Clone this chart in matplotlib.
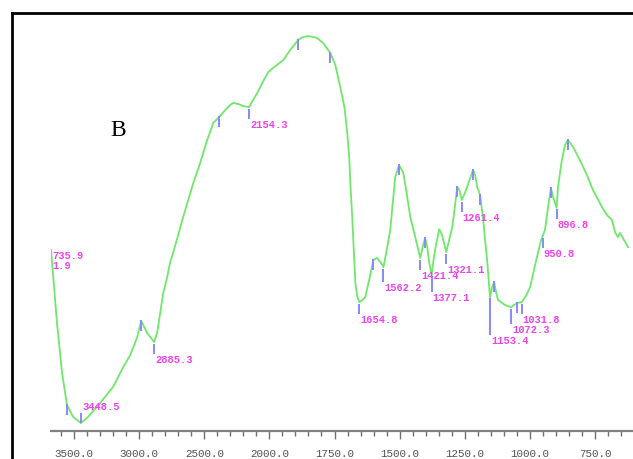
"""
FTIR spectrum (panel B) with picked peaks, split wavenumber scale at 2000 cm-1
"""

import numpy as np
import matplotlib
matplotlib.use('Agg')
import matplotlib.pyplot as plt
from matplotlib.ticker import FixedLocator, FixedFormatter, NullLocator
from matplotlib.lines import Line2D

# Spectrum (wavenumber in cm-1, transmittance in %)
WAVENUMBER = [
    3677, 3662, 3631, 3592, 3554, 3508, 3448, 3392, 3300, 3200,
    3123, 3069, 3015, 2985, 2938, 2885, 2862, 2815, 2785, 2762,
    2738, 2700, 2669, 2623, 2577, 2531, 2485, 2431, 2385, 2338,
    2300, 2277, 2238, 2200, 2154, 2131, 2092, 2054, 2008, 1977,
    1946, 1920, 1889, 1870, 1850, 1831, 1816, 1793, 1766, 1747,
    1728, 1712, 1701, 1693, 1689, 1682, 1674, 1670, 1663, 1655,
    1643, 1632, 1617, 1601, 1586, 1574, 1562, 1551, 1536, 1525,
    1517, 1502, 1486, 1475, 1459, 1440, 1421, 1410, 1402, 1394,
    1387, 1377, 1371, 1364, 1348, 1337, 1321, 1310, 1298, 1287,
    1279, 1271, 1261, 1248, 1241, 1229, 1218, 1210, 1202, 1191,
    1179, 1172, 1164, 1153, 1145, 1137, 1130, 1122, 1095, 1072,
    1049, 1031, 1015, 999, 980, 969, 957, 942, 930, 919,
    911, 897, 892, 877, 865, 854, 834, 808, 781, 758,
    723, 704, 685, 673, 662, 654, 643, 623,
]
TRANSMITTANCE = [
    43.4, 37.9, 25.9, 13.9, 6.2, 3.4, 1.9, 3.4, 6.7, 10.6,
    15.3, 18.2, 22.5, 26.4, 23.5, 21.3, 23.5, 33.1, 36.9, 40.5,
    42.9, 47.0, 50.6, 55.4, 60.2, 64.3, 69.1, 73.9, 75.3, 77.0,
    78.2, 78.7, 78.4, 77.9, 77.7, 79.1, 81.1, 83.5, 86.1, 87.5,
    89.0, 91.4, 93.8, 94.5, 94.7, 94.5, 94.2, 93.0, 90.6, 87.8,
    82.5, 77.7, 71.5, 65.0, 59.0, 51.3, 41.0, 35.5, 32.4, 30.9,
    31.4, 32.1, 36.2, 41.0, 41.5, 40.5, 39.3, 42.9, 48.2, 55.4,
    60.9, 63.8, 61.9, 57.8, 51.3, 46.5, 41.5, 44.6, 46.3, 44.1,
    40.5, 37.4, 40.5, 43.4, 48.4, 47.0, 42.9, 45.8, 48.9, 54.2,
    58.5, 57.8, 55.4, 57.3, 58.5, 60.7, 62.6, 61.4, 58.5, 56.6,
    50.6, 45.8, 41.0, 32.1, 34.5, 35.7, 33.3, 31.4, 30.2, 29.7,
    30.7, 30.9, 32.4, 34.5, 39.8, 42.7, 45.8, 48.2, 53.7, 58.3,
    56.1, 53.5, 58.5, 65.0, 68.6, 69.8, 68.1, 65.0, 61.4, 57.8,
    53.7, 51.8, 50.6, 47.7, 46.5, 47.5, 46.3, 44.1,
]

# Peaks with a printed value, and peaks only marked with a tick
LABELED_PEAKS = [3448.5, 2885.3, 2154.3, 1654.8, 1562.2, 1421.4, 1377.1,
                 1321.1, 1261.4, 1153.4, 1072.3, 1031.8, 950.8, 896.8]
MARKED_PEAKS = [3554, 2985, 2385, 1889, 1766, 1601, 1502, 1402,
                1279, 1218, 1191, 1137, 1049, 919, 854]

START_LABEL = ['735.9', '1.9']
PANEL_LABEL = 'B'

MAJOR_TICKS = [3500, 3000, 2500, 2000, 1750, 1500, 1250, 1000, 750]
TICK_LABELS = ['3500.0', '3000.0', '2500.0', '2000.0', '1750.0',
               '1500.0', '1250.0', '1000.0', '750.0']

# marker length in pixels where it differs from the default
MARK_LEN = {1153.4: 37, 1072.3: 15, 1377.1: 15, 1562.2: 13}

W, H = 633, 459
GREEN = '#6fe86a'
PEAK_BLUE = '#8888ff'
MAGENTA = '#f040f0'


def fwd(x):
    # above 2000 cm-1 the axis is compressed by a factor of two
    x = np.asarray(x, dtype=float)
    return np.where(x > 2000, 2000 + (x - 2000) / 2.0, x)


def inv(u):
    u = np.asarray(u, dtype=float)
    return np.where(u > 2000, 2000 + (u - 2000) * 2.0, u)


fig = plt.figure(figsize=(W / 100, H / 100), dpi=100)
ax = fig.add_axes([51 / W, 1 - 431 / H, (W - 51) / W, 417 / H])
ax.set_xscale('function', functions=(fwd, inv))

ax.plot(WAVENUMBER, TRANSMITTANCE, color=GREEN, lw=1.3, zorder=2)
ax.set_xlim(3677, 604)
ax.set_ylim(0, 100)

# axis styling: only a grey bottom axis with long/short ticks
for side in ['left', 'right', 'top']:
    ax.spines[side].set_visible(False)
ax.spines['bottom'].set_color('#808080')
ax.spines['bottom'].set_linewidth(1.6)
ax.yaxis.set_major_locator(NullLocator())

minor = [v for v in range(3600, 2000, -100) if v not in MAJOR_TICKS]
minor += [v for v in range(1950, 600, -50) if v not in MAJOR_TICKS]
ax.xaxis.set_major_locator(FixedLocator(MAJOR_TICKS))
ax.xaxis.set_major_formatter(FixedFormatter(TICK_LABELS))
ax.xaxis.set_minor_locator(FixedLocator(minor))
ax.tick_params(axis='x', which='major', length=6, width=1, color='#707070',
               pad=7, labelsize=7.8, labelcolor='#505050')
ax.tick_params(axis='x', which='minor', length=3.5, width=1, color='#707070')
for lbl in ax.get_xticklabels():
    lbl.set_family('Liberation Mono')

# data units per pixel on y
upp = 100.0 / 417
wn_up = WAVENUMBER[::-1]
t_up = TRANSMITTANCE[::-1]
txt_kw = dict(fontsize=7.5, family='Liberation Mono', fontweight='bold',
              color=MAGENTA, textcoords='offset pixels', clip_on=False)

for wn in MARKED_PEAKS:
    t = np.interp(wn, wn_up, t_up)
    ax.vlines(wn, t - 10 * upp, t + 1 * upp, color=PEAK_BLUE, lw=1.4, zorder=3)

for wn in LABELED_PEAKS:
    t = np.interp(wn, wn_up, t_up)
    if wn == 3448.5:
        # minimum sits on the baseline, so tick and value go above it
        top = t + 10 * upp
        ax.vlines(wn, t, top, color=PEAK_BLUE, lw=1.4, zorder=3)
        ax.annotate(f'{wn:.1f}', (wn, top), xytext=(2, 6), ha='left',
                    va='center', **txt_kw)
        continue
    top = t - 2 * upp
    bottom = top - MARK_LEN.get(wn, 10) * upp
    ax.vlines(wn, bottom, top, color=PEAK_BLUE, lw=1.4, zorder=3)
    ax.annotate(f'{wn:.1f}', (wn, bottom), xytext=(1, -1), ha='left',
                va='top', **txt_kw)

# first point of the trace
ax.annotate('\n'.join(START_LABEL), (WAVENUMBER[0], TRANSMITTANCE[0]),
            xytext=(1, -1), ha='left', va='top', linespacing=0.95, **txt_kw)

fig.text(118 / W, 1 - 130 / H, PANEL_LABEL, family='Liberation Serif',
         fontsize=17, ha='center', va='center', color='black')

# outer frame (right and bottom edges fall outside the image)
fx, fy = 12 / W, 1 - 13 / H
fig.add_artist(Line2D([fx, fx], [0, fy], transform=fig.transFigure,
                      color='black', lw=2))
fig.add_artist(Line2D([fx, 1], [fy, fy], transform=fig.transFigure,
                      color='black', lw=2))

fig.savefig('out.png', dpi=100)
